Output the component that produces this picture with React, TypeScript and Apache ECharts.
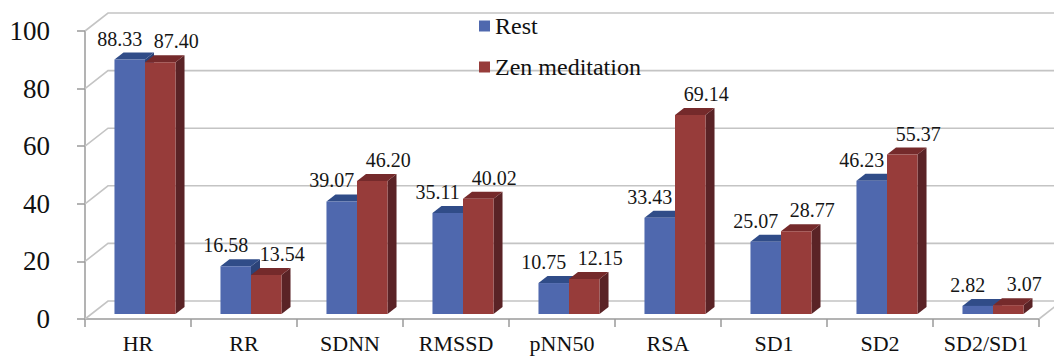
import React, { useEffect, useRef } from "react";
import * as echarts from "echarts";

const categories = ["HR", "RR", "SDNN", "RMSSD", "pNN50", "RSA", "SD1", "SD2", "SD2/SD1"];
const restValues = [88.33, 16.58, 39.07, 35.11, 10.75, 33.43, 25.07, 46.23, 2.82];
const zenValues = [87.4, 13.54, 46.2, 40.02, 12.15, 69.14, 28.77, 55.37, 3.07];
const seriesNames = ["Rest", "Zen meditation"];
const yTicks = [0, 20, 40, 60, 80, 100];

const FONT = "Liberation Serif";

const colors = {
  rest: { front: "#4f68ae", top: "#304c88", side: "#2c4378" },
  zen: { front: "#973c3a", top: "#752a2b", side: "#5a2326" },
};

// 3D geometry (pixels)
const DEPTH_BAR_OFF = [6.5, -5];
const BAR_DEPTH = [9, -7];
const WALL_OFF = [23, -18];

function makeBarRender(which: "rest" | "zen") {
  const c = colors[which];
  return (params: any, api: any) => {
    const idx = api.value(0);
    const val = api.value(1);
    const [cx, ty] = api.coord([idx, val]);
    const [, by] = api.coord([idx, 0]);
    const band = api.size([1, 0])[0];
    const w = band * 0.288;
    const left = (which === "rest" ? cx - w : cx) + DEPTH_BAR_OFF[0] + 0.5;
    const top = ty + DEPTH_BAR_OFF[1];
    const bottom = by + DEPTH_BAR_OFF[1];
    const dx = BAR_DEPTH[0];
    const dy = BAR_DEPTH[1];
    const labelX = left + w / 2 + (which === "rest" ? -10 : 16);
    return {
      type: "group",
      children: [
        {
          type: "polygon",
          shape: {
            points: [
              [left + w, top],
              [left + w + dx, top + dy],
              [left + w + dx, bottom + dy],
              [left + w, bottom],
            ],
          },
          style: { fill: c.side },
        },
        {
          type: "polygon",
          shape: {
            points: [
              [left, top],
              [left + w, top],
              [left + w + dx, top + dy],
              [left + dx, top + dy],
            ],
          },
          style: { fill: c.top },
        },
        {
          type: "rect",
          shape: { x: left, y: top, width: w, height: bottom - top },
          style: { fill: c.front },
        },
        {
          type: "text",
          x: labelX,
          y: top - 21,
          style: {
            text: val.toFixed(2),
            fill: "#161616",
            fontFamily: FONT,
            fontSize: 20,
            align: "center",
            verticalAlign: "middle",
          },
        },
      ],
    };
  };
}

function wallRender(params: any, api: any) {
  const v = api.value(0);
  const cs = params.coordSys;
  const [, y] = api.coord([0, v]);
  const x0 = cs.x;
  const x1 = cs.x + cs.width;
  const children: any[] = [
    {
      type: "polyline",
      shape: {
        points: [
          [x0, y],
          [x0 + WALL_OFF[0], y + WALL_OFF[1]],
          [x1 + WALL_OFF[0], y + WALL_OFF[1]],
        ],
      },
      style: { stroke: "#c4c4c4", lineWidth: 1.6, fill: "none" },
    },
  ];
  if (v === 0) {
    children.push({
      type: "line",
      shape: { x1: x1, y1: y, x2: x1 + WALL_OFF[0], y2: y + WALL_OFF[1] },
      style: { stroke: "#c4c4c4", lineWidth: 1.6 },
    });
  }
  return { type: "group", children };
}

export default function App() {
  const ref = useRef<HTMLDivElement>(null);
  useEffect(() => {
    if (!ref.current) return;
    const chart = echarts.init(ref.current, undefined, { renderer: "svg" });
    chart.setOption({
      animation: false,
      backgroundColor: "#ffffff",
      textStyle: { fontFamily: FONT },
      legend: {
        orient: "vertical",
        left: 474,
        top: 9,
        itemWidth: 11,
        itemHeight: 11,
        itemGap: 17,
        icon: "rect",
        data: [
          { name: seriesNames[0], itemStyle: { color: colors.rest.front } },
          { name: seriesNames[1], itemStyle: { color: colors.zen.front } },
        ],
        textStyle: { fontFamily: FONT, fontSize: 24, color: "#111" },
      },
      grid: { left: 85, right: 15, top: 31, bottom: 38 },
      xAxis: {
        type: "category",
        data: categories,
        axisLine: { show: true, lineStyle: { color: "#9a9a9a", width: 1.5 } },
        axisTick: { show: true, length: 8, lineStyle: { color: "#9a9a9a", width: 1.5 } },
        axisLabel: { interval: 0, fontFamily: FONT, fontSize: 22, color: "#111", margin: 13 },
        splitLine: { show: false },
      },
      yAxis: {
        type: "value",
        min: 0,
        max: 100,
        interval: 20,
        axisLine: { show: true, lineStyle: { color: "#9a9a9a", width: 1.5 } },
        axisTick: { show: true, length: 8, lineStyle: { color: "#9a9a9a", width: 1.5 } },
        axisLabel: { fontFamily: FONT, fontSize: 27, color: "#111", margin: 35 },
        splitLine: { show: false },
      },
      series: [
        {
          type: "custom",
          name: "wall",
          renderItem: wallRender,
          data: yTicks.map((v) => [v]),
          encode: { y: 0 },
          silent: true,
          z: 1,
        },
        {
          type: "custom",
          name: seriesNames[0],
          renderItem: makeBarRender("rest"),
          itemStyle: { color: colors.rest.front },
          data: restValues.map((v, i) => [i, v]),
          encode: { x: 0, y: 1 },
          z: 2,
        },
        {
          type: "custom",
          name: seriesNames[1],
          renderItem: makeBarRender("zen"),
          itemStyle: { color: colors.zen.front },
          data: zenValues.map((v, i) => [i, v]),
          encode: { x: 0, y: 1 },
          z: 3,
        },
      ],
    });
    return () => chart.dispose();
  }, []);
  return (
    <div
      ref={ref}
      style={{ position: "fixed", left: 0, top: 0, width: 1054, height: 357 }}
    />
  );
}
